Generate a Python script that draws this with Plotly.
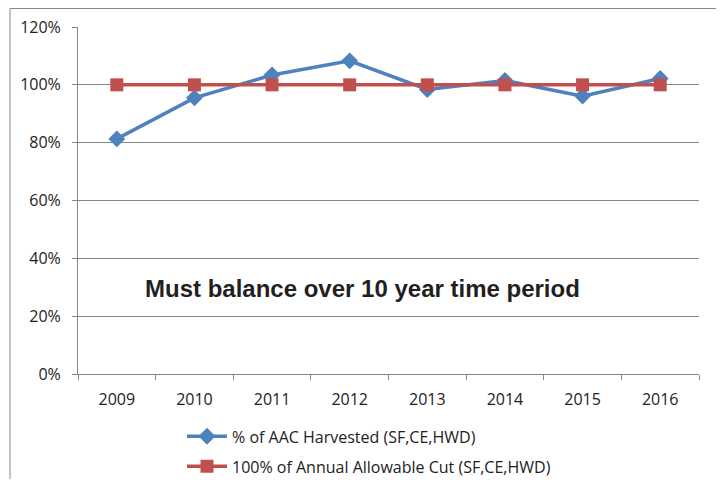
import plotly.graph_objects as go

years = ["2009", "2010", "2011", "2012", "2013", "2014", "2015", "2016"]
harvested = [0.813, 0.955, 1.034, 1.083, 0.984, 1.015, 0.961, 1.022]
aac = [1.0, 1.0, 1.0, 1.0, 1.0, 1.0, 1.0, 1.0]
y_ticks = [0, 0.2, 0.4, 0.6, 0.8, 1.0, 1.2]
y_tick_labels = ["0%", "20%", "40%", "60%", "80%", "100%", "120%"]
name_harv = "% of AAC Harvested (SF,CE,HWD)"
name_aac = "100% of Annual Allowable Cut (SF,CE,HWD)"
note = "Must balance over 10 year time period"

FONT = "Open Sans, Arial, sans-serif"
OFF = 8  # page body margin
W, H = 724 - OFF, 487 - 2 * OFF
# plot area in screen coordinates
X0, X1, Y0, Y1 = 78, 699, 27, 374.5
L, T = X0 - OFF, Y0 - OFF
R = W - (X1 - OFF)
B = H - (Y1 - OFF)
pw, ph = X1 - X0, Y1 - Y0

def px(x):
    return (x - X0) / pw

def py(y):
    return (Y1 - y) / ph

fig = go.Figure()
fig.add_trace(go.Scatter(
    x=years, y=harvested, name=name_harv, mode="lines+markers",
    line=dict(color="#4F81BD", width=3.5),
    marker=dict(symbol="diamond", size=13, color="#4F81BD"),
    legend="legend", showlegend=True,
))
fig.add_trace(go.Scatter(
    x=years, y=aac, name=name_aac, mode="lines+markers",
    line=dict(color="#C0504D", width=3.5),
    marker=dict(symbol="square", size=13, color="#C0504D"),
    legend="legend2", showlegend=True,
))

fig.update_layout(
    width=W, height=H,
    showlegend=True,
    margin=dict(l=L, r=R, t=T, b=B, autoexpand=False),
    paper_bgcolor="white", plot_bgcolor="white",
    font=dict(family=FONT, size=16, color="#222222"),
    xaxis=dict(
        type="category", tickson="boundaries", ticks="outside", ticklen=5,
        tickcolor="#868686", showline=True, linecolor="#868686", linewidth=1,
        showgrid=False, tickfont=dict(size=16), range=[-0.5, 7.5],
        automargin=False, ticklabelstandoff=11,
    ),
    yaxis=dict(
        range=[0, 1.2], tickvals=y_ticks, ticktext=y_tick_labels,
        ticks="outside", ticklen=5, tickcolor="#868686",
        showline=True, linecolor="#868686", linewidth=1,
        showgrid=True, gridcolor="#868686", gridwidth=1,
        tickfont=dict(size=16), zeroline=False,
        automargin=False, ticklabelstandoff=8,
    ),
    legend=dict(
        x=px(182), y=py(437), xanchor="left", yanchor="middle",
        font=dict(size=16), bgcolor="rgba(0,0,0,0)", itemwidth=40,
    ),
    legend2=dict(
        x=px(182), y=py(467), xanchor="left", yanchor="middle",
        font=dict(size=16), bgcolor="rgba(0,0,0,0)", itemwidth=40,
    ),
    annotations=[dict(
        text="<b>" + note + "</b>", xref="paper", yref="paper",
        x=px(362), y=py(304), showarrow=False,
        font=dict(size=24, family="Liberation Sans, Arial, sans-serif", color="#231F20"),
    )],
    shapes=[dict(
        type="rect", xref="paper", yref="paper",
        x0=px(10), x1=px(719), y0=py(520), y1=py(8.5),
        line=dict(color="#868686", width=1), fillcolor="rgba(0,0,0,0)",
        layer="below",
    )],
)

fig.write_html("out.html")
